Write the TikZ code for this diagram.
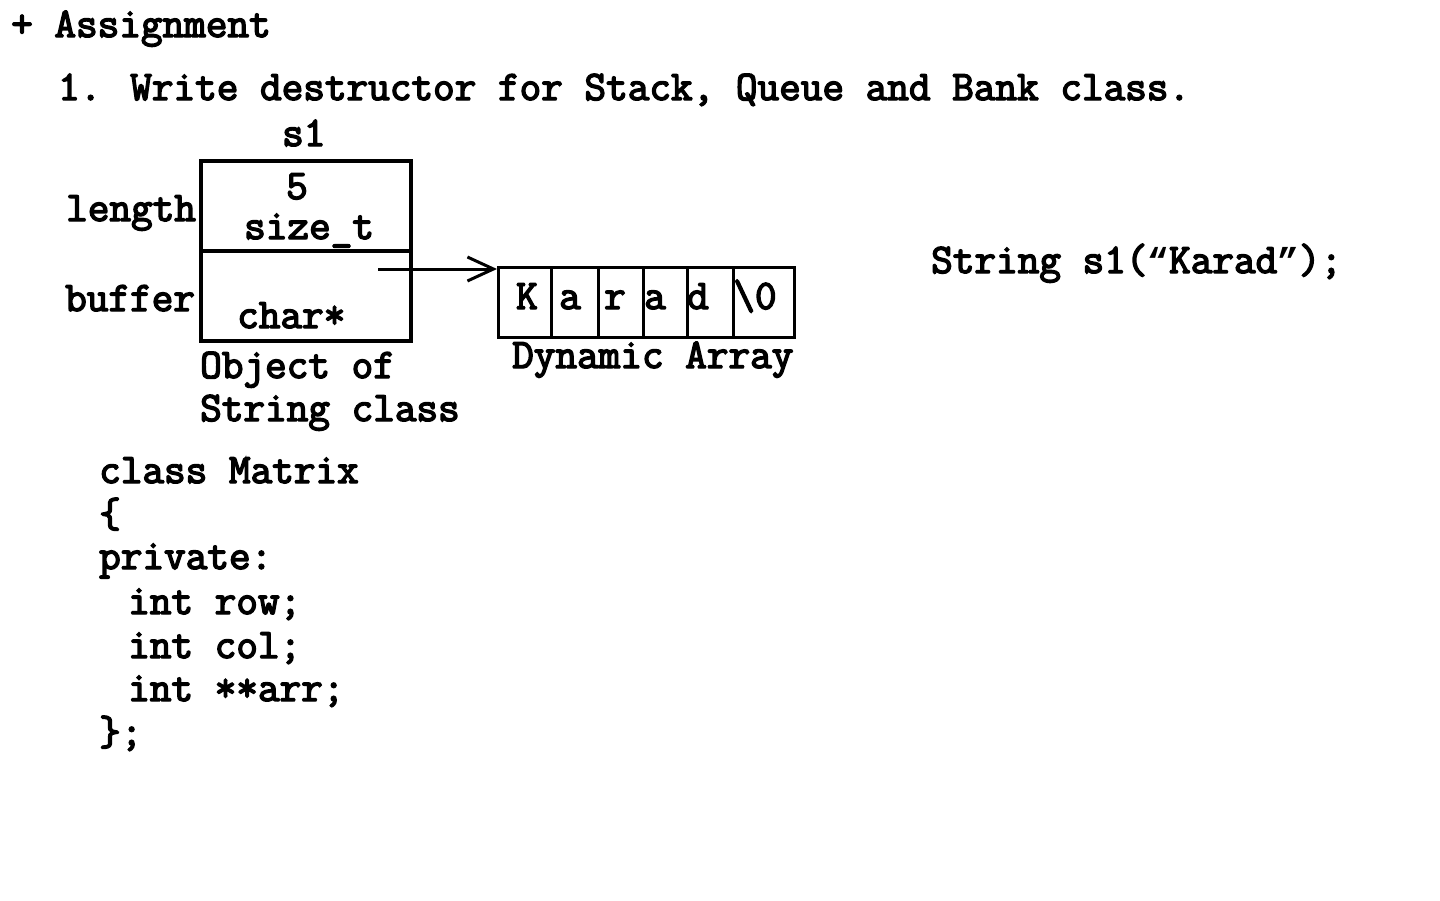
\documentclass[tikz,border=0pt]{standalone}
\usepackage{fontspec}
\newfontfamily\courfont[FakeBold=3.5]{Latin Modern Mono}
\newfontfamily\qfont{Liberation Mono}
\newcommand\qmark[1]{{\qfont\bfseries\fontsize{36}{40}\selectfont #1}}
\usetikzlibrary{arrows.meta}
\begin{document}
\begin{tikzpicture}[x=1pt,y=-1pt,
  txt/.style={font=\courfont\fontsize{42}{44}\selectfont, inner sep=0pt, anchor=base west},
  ctxt/.style={txt, anchor=base},
  field/.style={draw, line width=4pt, rectangle, minimum width=210pt, minimum height=90pt, inner sep=0pt},
  cell/.style={draw, line width=3pt, rectangle, minimum height=70pt, inner sep=0pt, anchor=west},
  ptr/.style={line width=3pt, -{Straight Barb[length=26pt,width=24pt,line width=3pt]}}
]
\useasboundingbox[fill=white] (0,0) rectangle (1440,900);

\node[txt] (title) at (11,37) {+ Assignment};
\node[txt] (task) at (58,100) {1. Write destructor for Stack, Queue and Bank class.};

% object box
\node[txt] (s1) at (282,146) {s1};
\node[field] (lenbox) at (306,206) {};
\node[field] (bufbox) at (306,296) {};
\node[ctxt, text depth=0pt] (five) at (297,199) {5};
\node[txt] (sizet) at (244,239) {size\_t};
\node[txt] (lenlbl) at (66,221) {length};
\node[txt] (buflbl) at (65,311) {buffer};
\node[txt] (chartype) at (237,328) {char*};
\node[txt] (obj1) at (200,378) {Object of};
\node[txt] (obj2) at (200,421) {String class};

% dynamic array
\node[cell, minimum width=53pt] (c1) at (497,302) {};
\node[cell, minimum width=47pt] (c2) at (550,302) {};
\node[cell, minimum width=45pt] (c3) at (597,302) {};
\node[cell, minimum width=44pt] (c4) at (642,302) {};
\node[cell, minimum width=46pt] (c5) at (686,302) {};
\node[cell, minimum width=61pt] (c6) at (732,302) {};
\node[ctxt] (k1) at (527,309) {K};
\node[ctxt] (k2) at (570,309) {a};
\node[ctxt] (k3) at (615,309) {r};
\node[ctxt] (k4) at (655,309) {a};
\node[ctxt] (k5) at (698,309) {d};
\node[ctxt] (k6) at (755,309) {\textbackslash0};
\node[txt] (dyn) at (512,368) {Dynamic Array};

% pointer
\coordinate (pstart) at (378,269);
\draw[ptr] (pstart) -- (c1.west |- pstart);

\node[txt] (decl) at (931,273) {String s1(\qmark{“}Karad\qmark{”});};

% class Matrix
\node[txt] (m1) at (99,483) {class Matrix};
\node[txt] (m2) at (99,527) {\{};
\node[txt] (m3) at (99,569) {private:};
\node[txt] (m4) at (128,614) {int row;};
\node[txt] (m5) at (128,658) {int col;};
\node[txt] (m6) at (128,701) {int **arr;};
\node[txt] (m7) at (99,745) {\};};
\end{tikzpicture}
\end{document}
